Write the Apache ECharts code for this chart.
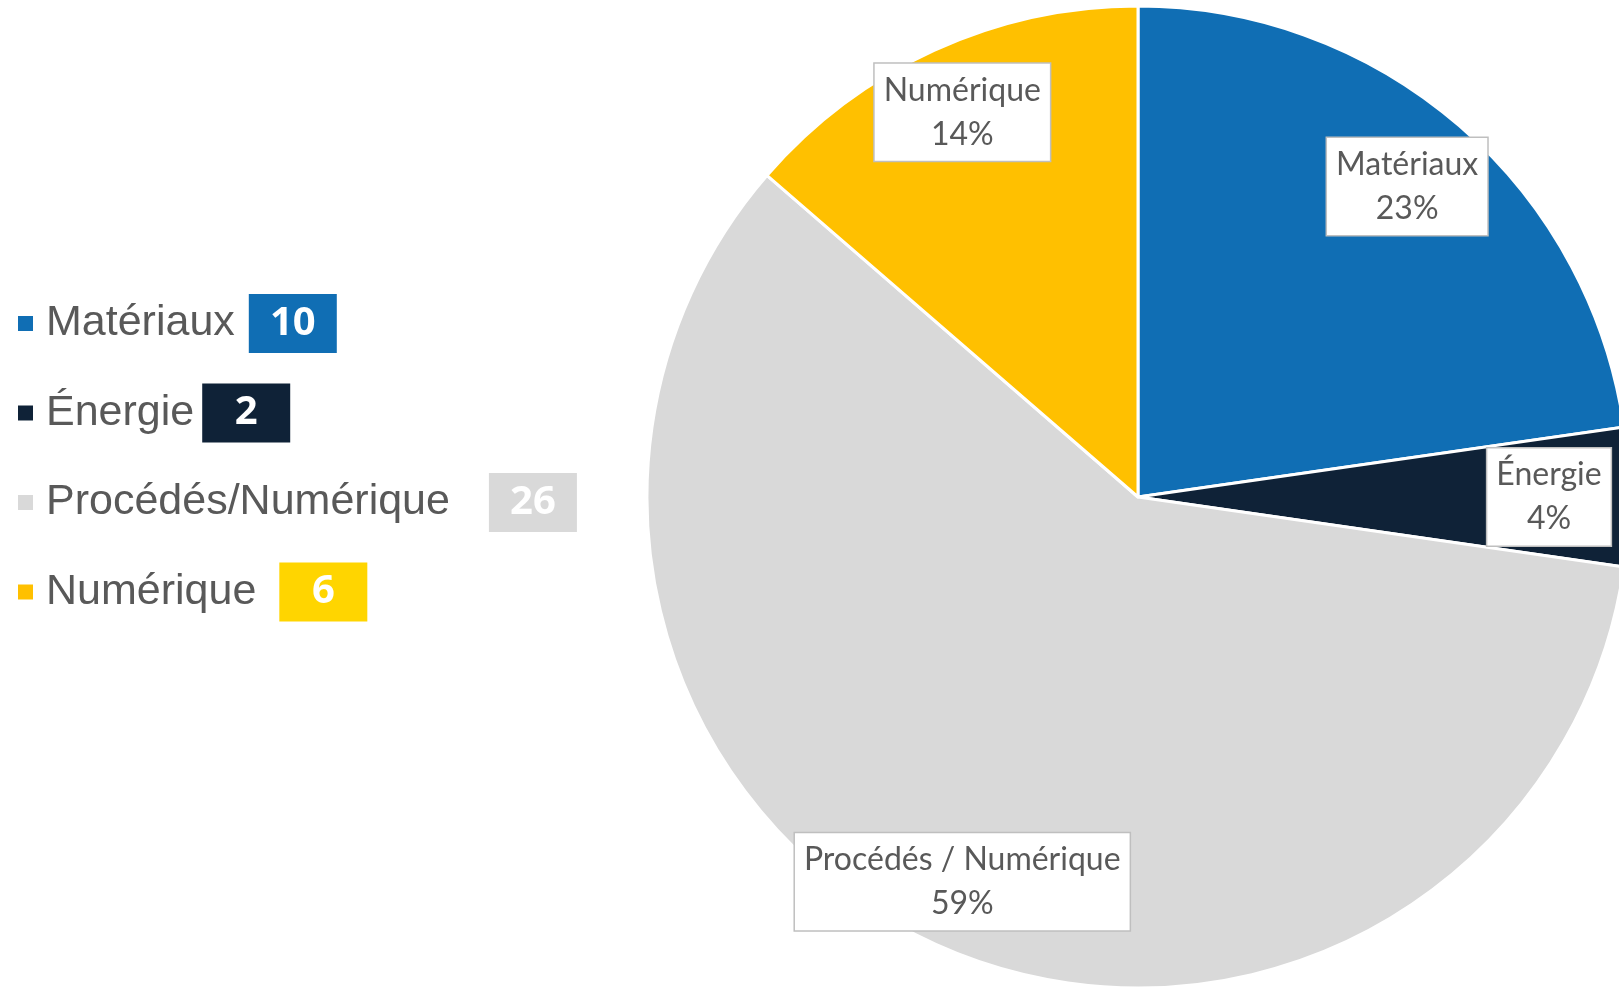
<!DOCTYPE html>
<html>
<head>
<meta charset="utf-8">
<script src="https://cdn.jsdelivr.net/npm/echarts@6/dist/echarts.min.js"></script>
<style>
  html, body { margin: 0; padding: 0; background: #ffffff; }
  #chart { width: 1619px; height: 987px; }
</style>
</head>
<body>
<div id="chart"></div>
<script>
// ---- data ----
const categories = ['Matériaux', 'Énergie', 'Procédés/Numérique', 'Numérique'];
const labelNames = ['Matériaux', 'Énergie', 'Procédés / Numérique', 'Numérique'];
const values = [10, 2, 26, 6];

// ---- styles ----
const sliceColors = ['#106EB4', '#0F2237', '#D9D9D9', '#FFC000'];
const boxColors = ['#106EB4', '#0F2237', '#D9D9D9', '#FFD500'];
const legendGaps = [14, 8, 39, 23];
// which callout ring each label sits on (0 = right-side ring, 1 = left-side ring)
const labelRing = [0, 0, 1, 1];

const chart = echarts.init(document.getElementById('chart'), null, { renderer: 'canvas' });

const pieData = categories.map((c, i) => ({
  name: c,
  value: values[i],
  itemStyle: { color: sliceColors[i] }
}));

const rich = {
  t: { fontFamily: 'Liberation Sans, Arial', fontSize: 43, color: '#595959', lineHeight: 59, padding: [0, 0, 0, 7] }
};
categories.forEach((c, i) => {
  rich['g' + i] = { width: legendGaps[i], lineHeight: 59, fontSize: 10 };
  rich['v' + i] = {
    width: 88, height: 59, lineHeight: 59, align: 'center', verticalAlign: 'middle',
    backgroundColor: boxColors[i], color: '#ffffff',
    fontFamily: 'Open Sans', fontWeight: 'bold', fontSize: 40
  };
});

const labelStyle = {
  show: true,
  position: 'inside',
  formatter: function (p) {
    return labelNames[p.dataIndex] + '\n' + p.percent + '%';
  },
  fontFamily: 'Lato',
  fontSize: 32,
  lineHeight: 44,
  color: '#595959',
  backgroundColor: '#ffffff',
  borderColor: '#BFBFBF',
  borderWidth: 1.5,
  padding: [5, 9, 4, 9],
  align: 'center'
};

function overlay(ring, r0) {
  return {
    type: 'pie',
    center: [1138, 497],
    radius: [r0, 491],
    startAngle: 90,
    clockwise: true,
    silent: true,
    percentPrecision: 0,
    data: categories.map((c, i) => ({
      name: c, value: values[i],
      label: { show: labelRing[i] === ring }
    })),
    itemStyle: { color: 'rgba(0,0,0,0)', borderWidth: 0 },
    labelLine: { show: false },
    emphasis: { disabled: true },
    label: labelStyle
  };
}

const option = {
  backgroundColor: '#ffffff',
  animation: false,
  legend: {
    orient: 'vertical',
    left: 11,
    top: 289,
    itemWidth: 17,
    itemHeight: 17,
    itemGap: 30.5,
    icon: 'rect',
    data: categories,
    selectedMode: false,
    formatter: function (name) {
      const i = categories.indexOf(name);
      return '{t|' + name + '}{g' + i + '| }{v' + i + '|' + values[i] + '}';
    },
    textStyle: { rich: rich }
  },
  series: [
    {
      type: 'pie',
      center: [1138, 497],
      radius: [0, 491],
      startAngle: 90,
      clockwise: true,
      data: pieData,
      label: { show: false },
      labelLine: { show: false },
      itemStyle: { borderColor: '#ffffff', borderWidth: 3 },
      emphasis: { disabled: true }
    },
    overlay(0, 325),
    overlay(1, 349)
  ]
};

chart.setOption(option);
</script>
</body>
</html>
